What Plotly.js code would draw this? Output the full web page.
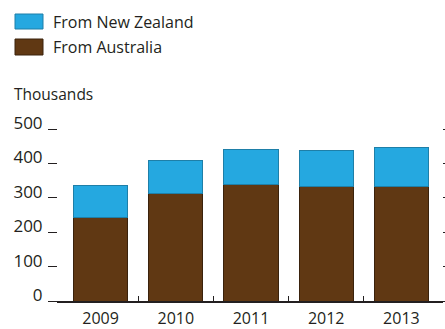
<!DOCTYPE html>
<html>
<head>
<meta charset="utf-8">
<script src="https://cdn.plot.ly/plotly-3.0.1.min.js"></script>
<style>html,body{margin:0;padding:0;background:#fff;}#chart{width:445px;height:329px;}</style>
</head>
<body>
<div id="chart"></div>
<script>
var years = ['2009', '2010', '2011', '2012', '2013'];
var fromAustralia = [243, 313, 339, 334, 334];
var fromNewZealand = [92, 95, 102, 103, 113];
var yTickVals = [0, 100, 200, 300, 400, 500];
var seriesNames = ['From New Zealand', 'From Australia'];

var W = 445, H = 329;
var M = {l: 63, r: 6, t: 129, b: 28};
var PW = W - M.l - M.r, PH = H - M.t - M.b;
function px(x) { return (x - M.l) / PW; }
function py(y) { return (H - M.b - y) / PH; }

var blue = '#25a8e0', blueLine = '#1e7fa8';
var brown = '#603813', brownLine = '#3a220c';
var txt = '#231f20';
var fontFam = '"Open Sans", "Lato", sans-serif';

var traces = [
  {type: 'bar', x: years, y: fromAustralia, name: seriesNames[1], width: 0.72,
   marker: {color: brown, line: {color: brownLine, width: 1}}},
  {type: 'bar', x: years, y: fromNewZealand, name: seriesNames[0], width: 0.72,
   marker: {color: blue, line: {color: blueLine, width: 1}}},
  {type: 'scatter', mode: 'markers', x: [years[0]], y: [null], yaxis: 'y2',
   hoverinfo: 'skip', showlegend: false, marker: {opacity: 0}}
];

var layout = {
  width: W, height: H,
  margin: M,
  barmode: 'stack',
  showlegend: false,
  paper_bgcolor: '#fff', plot_bgcolor: '#fff',
  font: {family: fontFam, color: txt, size: 16},
  xaxis: {
    type: 'category', range: [-0.5, 4.5],
    showline: true, linecolor: txt, linewidth: 2,
    ticks: 'inside', tickson: 'boundaries', ticklen: 5, tickwidth: 1, tickcolor: txt,
    showgrid: false, zeroline: false,
    tickfont: {size: 16, color: txt, family: fontFam},
    ticklabelstandoff: 2
  },
  yaxis: {
    range: [0, 500], tickvals: yTickVals, ticktext: yTickVals.map(String),
    showline: true, linecolor: 'rgba(0,0,0,0)', linewidth: 6,
    ticks: 'outside', ticklen: 9, tickwidth: 1, tickcolor: txt,
    showgrid: false, zeroline: false,
    tickfont: {size: 17, color: txt, family: fontFam},
    ticklabelshift: -6, ticklabelstandoff: 2
  },
  yaxis2: {
    overlaying: 'y', side: 'right', range: [0, 500], tickvals: yTickVals,
    showticklabels: false,
    showline: true, linecolor: 'rgba(0,0,0,0)', linewidth: 4,
    ticks: 'outside', ticklen: 3, tickwidth: 1, tickcolor: txt,
    showgrid: false, zeroline: false
  },
  shapes: [
    {type: 'rect', xref: 'paper', yref: 'paper', x0: px(15), x1: px(43), y0: py(14), y1: py(29),
     fillcolor: blue, line: {color: blueLine, width: 1}},
    {type: 'rect', xref: 'paper', yref: 'paper', x0: px(15), x1: px(43), y0: py(39), y1: py(55),
     fillcolor: brown, line: {color: brownLine, width: 1}}
  ],
  annotations: [
    {xref: 'paper', yref: 'paper', x: px(51), y: py(22), xanchor: 'left', yanchor: 'middle',
     text: seriesNames[0], showarrow: false, font: {size: 16, color: txt}},
    {xref: 'paper', yref: 'paper', x: px(51), y: py(47), xanchor: 'left', yanchor: 'middle',
     text: seriesNames[1], showarrow: false, font: {size: 16, color: txt}},
    {xref: 'paper', yref: 'paper', x: px(12), y: py(94), xanchor: 'left', yanchor: 'middle',
     text: 'Thousands', showarrow: false, font: {size: 15.5, color: txt}}
  ]
};

Plotly.newPlot('chart', traces, layout, {displayModeBar: false, staticPlot: true});
</script>
</body>
</html>
